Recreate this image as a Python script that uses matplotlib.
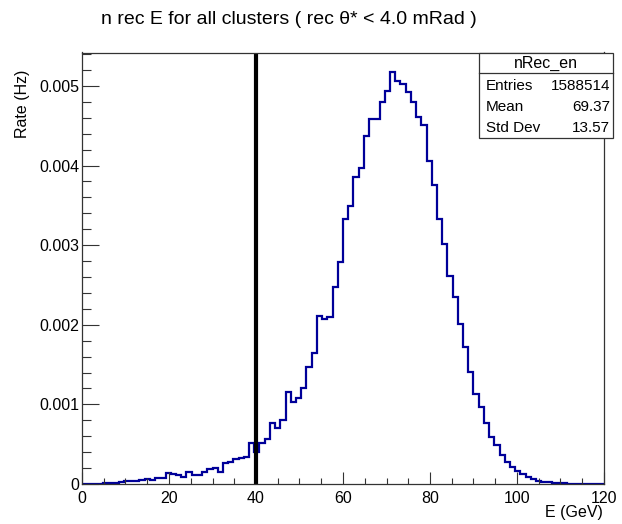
import matplotlib
matplotlib.use("Agg")
import matplotlib.pyplot as plt
import numpy as np
from matplotlib.patches import Rectangle
from matplotlib.ticker import MultipleLocator

# 100 bins of 1.2 GeV from 0 to 120
edges = np.linspace(0, 120, 101)
rate = [
    0.000002, 0.000003, 0.000004, 0.000006, 0.000008, 0.00001, 0.000015, 0.00002, 0.000035, 0.00004,
    0.00004, 0.000053, 0.00006, 0.000053, 0.000078, 0.00007, 0.000136, 0.00012, 0.000115, 0.000085,
    0.00015, 0.00011, 0.00011, 0.00015, 0.00019, 0.0002, 0.00015, 0.00027, 0.00028, 0.00031,
    0.00033, 0.00034, 0.00052, 0.0004, 0.00052, 0.00056, 0.00077, 0.0007, 0.0008, 0.00116,
    0.00103, 0.00108, 0.00121, 0.00147, 0.00164, 0.00211, 0.00207, 0.0021, 0.00248, 0.00279,
    0.00333, 0.00349, 0.00386, 0.00397, 0.00437, 0.00459, 0.00459, 0.0048, 0.00494, 0.00517,
    0.00506, 0.00503, 0.00493, 0.0048, 0.00461, 0.00451, 0.00406, 0.00376, 0.00333, 0.00302,
    0.00261, 0.00235, 0.00201, 0.00172, 0.00141, 0.00113, 0.00097, 0.00077, 0.00059, 0.00049,
    0.00036, 0.00028, 0.00021, 0.000167, 0.00012, 0.000084, 0.00006, 0.00004, 0.00003, 0.00002,
    0.000015, 0.00001, 0.000007, 0.000005, 0.000004, 0.000003, 0.000002, 0.000002, 0.000001, 0.000001,
]
cut_E = 40.0

stat_names = ["Entries", "Mean", "Std Dev"]
stat_values = ["1588514", "69.37", "13.57"]

plt.rcParams['font.family'] = ['Liberation Sans', 'DejaVu Sans']

fig = plt.figure(figsize=(6.22, 5.24), dpi=100)
ax = fig.add_axes([82/622, 40/524, 522/622, 431.5/524])

ax.stairs(rate, edges, color="#000099", linewidth=1.6)
ax.axvline(cut_E, color="black", linewidth=3)

ax.set_xlim(0, 120)
ax.set_ylim(0, 0.00542)
ax.xaxis.set_major_locator(MultipleLocator(20))
ax.xaxis.set_minor_locator(MultipleLocator(5))
ax.yaxis.set_major_locator(MultipleLocator(0.001))
ax.yaxis.set_minor_locator(MultipleLocator(0.0002))
ax.yaxis.set_major_formatter(plt.FuncFormatter(lambda v, p: "0" if v == 0 else "%.3f" % v))

ax.tick_params(axis="both", which="both", direction="in", top=False, right=False,
               labelsize=11.5, width=0.8, color="#333333")
ax.tick_params(axis="y", which="major", length=12, pad=2)
ax.tick_params(axis="y", which="minor", length=6.5)
ax.tick_params(axis="x", which="major", length=8.5, pad=5)
ax.tick_params(axis="x", which="minor", length=4.3)
for s in ax.spines.values():
    s.set_linewidth(0.9)
    s.set_color("#333333")

fig.text(289/622, 1 - 20/524, "n rec E for all clusters ( rec θ* < 4.0 mRad )",
         ha="center", va="center", fontsize=14)
fig.text(603/622, 1 - 512/524, "E (GeV)", ha="right", va="center", fontsize=11.5)
fig.text(22/622, 1 - 104/524, "Rate (Hz)", ha="center", va="center", rotation=90, fontsize=11.5)

# stats box
bx0, bx1, by0, by1 = 479/622, 613/622, 1 - 138.3/524, 1 - 52.5/524
fig.patches.append(Rectangle((bx0, by0), bx1 - bx0, by1 - by0, transform=fig.transFigure,
                             facecolor="white", edgecolor="#333333", linewidth=0.9, zorder=5))
fig.add_artist(plt.Line2D([bx0, bx1], [1 - 73.3/524] * 2, transform=fig.transFigure,
                          color="#333333", linewidth=0.9, zorder=6))
fig.text((bx0 + bx1) / 2, 1 - 63/524, "nRec_en", ha="center", va="center", fontsize=11.5, zorder=7)
for i, (n, v) in enumerate(zip(stat_names, stat_values)):
    yy = 1 - (85.5 + 21.3 * i) / 524
    fig.text(486/622, yy, n, ha="left", va="center", fontsize=11, zorder=7)
    fig.text(610/622, yy, v, ha="right", va="center", fontsize=11, zorder=7)

fig.savefig("out.png", dpi=100)
